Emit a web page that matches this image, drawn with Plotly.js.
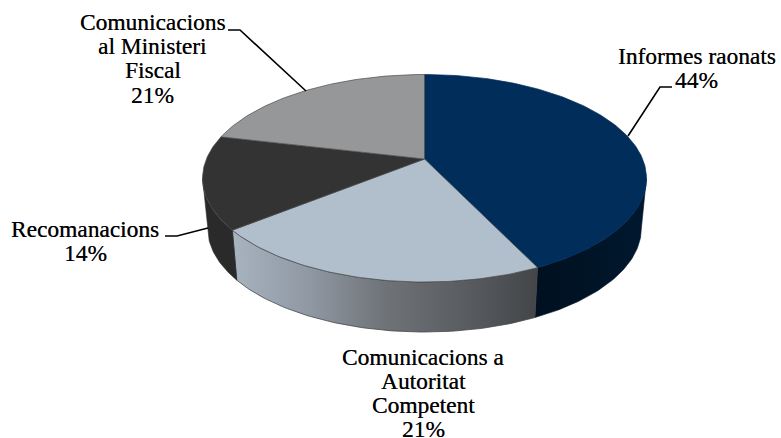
<!DOCTYPE html>
<html><head><meta charset="utf-8">
<script src="https://cdn.plot.ly/plotly-3.0.1.min.js"></script>
<style>html,body{margin:0;padding:0;background:#fff}#c{width:781px;height:438px}</style>
</head><body><div id="c"></div>
<script>
// Text as printed on the chart
const categories = ['Informes raonats','Comunicacions a Autoritat Competent','Recomanacions','Comunicacions al Ministeri Fiscal'];
const labelLines = [['Informes raonats','44%'],['Comunicacions a','Autoritat','Competent','21%'],['Recomanacions','14%'],['Comunicacions','al Ministeri','Fiscal','21%']];
// Slice shares as measured on the drawn pie (percent)
const shares = [42.9,21.3,14.5,21.3];
const topColors = ['#002d5a','#b1bfcd','#333333','#969798'];
const wallColors = ['#001326','#808890','#2a2a2a','#777777'];
const labelX = [696.5,423,85,152.5];
const labelTop = [56,356.5,228.5,22];
const lineStep = 24.2;
const leaderX = [[672,660,628],[],[165,177,208],[228,240,306]];
const leaderY = [[87,87,136],[],[236,236,228],[30,30,91]];

const apexX=424.5, apexY=159, S=218.1, T=100.2, k=0.1855, depth=50, shrink=0.977;
function proj(th){const u=Math.sin(th),v=-Math.cos(th),w=1-k*v;return [apexX+S*u/w,apexY+T*v/w];}
function projBottom(th){const p=proj(th);return [apexX+(p[0]-apexX)*shrink,p[1]+depth];}
function arc(a,b,f){const n=Math.max(2,Math.ceil((b-a)*60)),o=[];for(let i=0;i<=n;i++)o.push(f(a+(b-a)*i/n));return o;}
// the wall is visible only between the two silhouette tangents
const visA=Math.acos(-k), visB=2*Math.PI-visA;

const traces=[];
let acc=0; const ranges=shares.map(s=>{const a=acc/100*2*Math.PI;acc+=s;return [a,acc/100*2*Math.PI];});
ranges.forEach((r,i)=>{
  const a=Math.max(r[0],visA), b0=Math.min(r[1],visB);
  if(b0<=a) return;
  const t=arc(a,b0,proj), b=arc(a,b0,projBottom).reverse(), p=t.concat(b);
  p.push(p[0]);
  const tr={x:p.map(q=>q[0]),y:p.map(q=>q[1]),mode:'lines',fill:'toself',line:{width:0.6,color:wallColors[i]},fillcolor:wallColors[i],hoverinfo:'skip'};
  if(i===1){tr.fillgradient={type:'horizontal',start:233,stop:538,colorscale:[[0,'#a8b3c0'],[0.25,'#8f98a3'],[0.5,'#6f7378'],[0.75,'#5a5e63'],[1,'#434547']]};tr.line={width:0.8,color:'#45474a'};}
  if(i===0){tr.fillgradient={type:'horizontal',start:535,stop:647,colorscale:[[0,'#00101f'],[1,'#00182f']]};}
  traces.push(tr);
});
ranges.forEach((r,i)=>{
  const p=[[apexX,apexY]].concat(arc(r[0],r[1],proj));p.push([apexX,apexY]);
  traces.push({x:p.map(q=>q[0]),y:p.map(q=>q[1]),mode:'lines',fill:'toself',fillcolor:topColors[i],line:{width:0.7,color:i===0?'#002d5a':'#4a4a4a'},hoverinfo:'skip'});
});
leaderX.forEach((xs,i)=>{if(xs.length)traces.push({x:xs,y:leaderY[i],mode:'lines',line:{color:'#000',width:1.6},hoverinfo:'skip'});});

const annotations=[];
labelLines.forEach((lines,i)=>lines.forEach((txt,j)=>annotations.push({x:labelX[i],y:labelTop[i]+j*lineStep,xref:'x',yref:'y',text:txt,showarrow:false,align:'center',xanchor:'center',yanchor:'middle',font:{family:'Liberation Serif',size:23.4,color:'#000',shadow:'0.35px 0 0.25px rgba(0,0,0,0.7)'}})));
const axis={visible:false,fixedrange:true};
const layout={width:781,height:438,margin:{l:0,r:0,t:0,b:0},paper_bgcolor:'#fff',plot_bgcolor:'#fff',showlegend:false,
 xaxis:Object.assign({range:[0,781]},axis),yaxis:Object.assign({range:[438,0]},axis),annotations};
Plotly.newPlot('c',traces,layout,{displayModeBar:false,staticPlot:true});
</script></body></html>
